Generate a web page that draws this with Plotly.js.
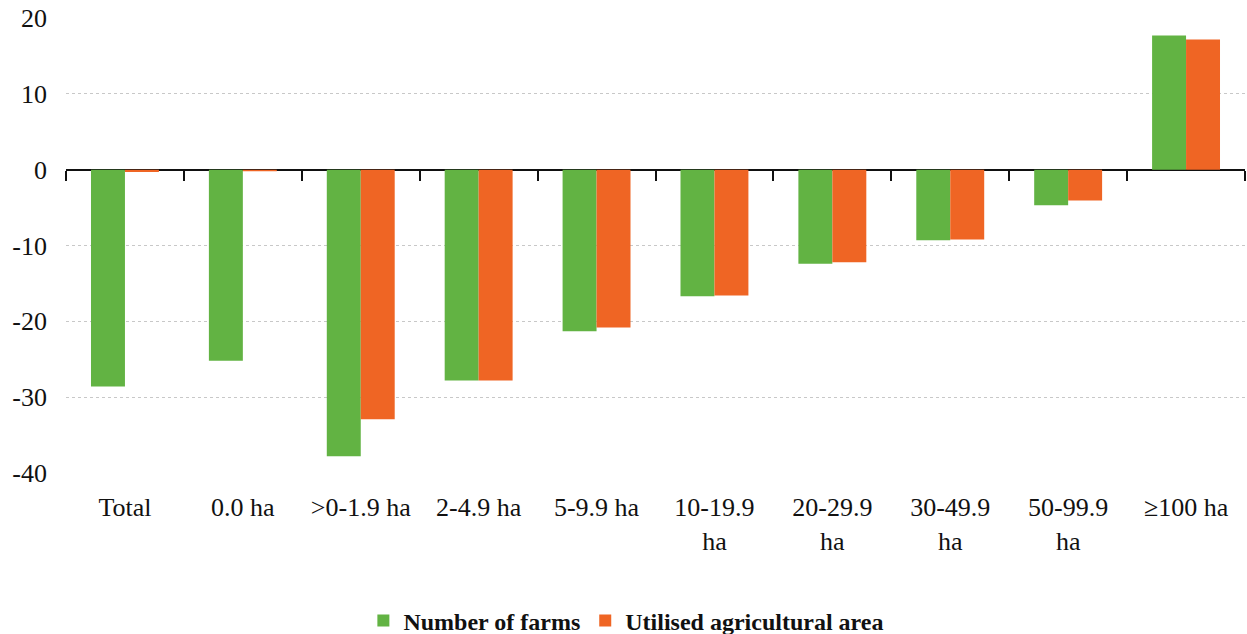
<!DOCTYPE html>
<html>
<head>
<meta charset="utf-8">
<script src="https://cdn.plot.ly/plotly-3.0.1.min.js"></script>
<style>html,body{margin:0;padding:0;background:#fff;}#chart{width:1247px;height:634px;}</style>
</head>
<body>
<div id="chart"></div>
<script>
const categories = ["Total", "0.0 ha", ">0-1.9 ha", "2-4.9 ha", "5-9.9 ha", "10-19.9<br>ha", "20-29.9<br>ha", "30-49.9<br>ha", "50-99.9<br>ha", "≥100 ha"];
const numberOfFarms = [-28.6, -25.2, -37.8, -27.8, -21.3, -16.7, -12.4, -9.3, -4.7, 17.7];
const utilisedArea = [-0.3, -0.2, -32.9, -27.8, -20.8, -16.6, -12.2, -9.2, -4.05, 17.15];
const yTicks = [-40, -30, -20, -10, 0, 10, 20];
const seriesNames = ["Number of farms", "Utilised agricultural area"];

const font = "'Liberation Serif', 'Times New Roman', serif";

const traces = [
  {type: "bar", name: seriesNames[0], x: categories, y: numberOfFarms, marker: {color: "#62B343"}, hoverinfo: "x+y"},
  {type: "bar", name: seriesNames[1], x: categories, y: utilisedArea, marker: {color: "#EF6524"}, hoverinfo: "x+y"},
  {type: "scatter", mode: "none", x: categories, y: categories.map(() => null), xaxis: "x2", showlegend: false, hoverinfo: "skip"}
];

const layout = {
  width: 1247, height: 634,
  margin: {l: 66, r: 2, t: 18, b: 161, pad: 0, autoexpand: false},
  paper_bgcolor: "#fff", plot_bgcolor: "#fff",
  font: {family: font, size: 26, color: "#111"},
  barmode: "group", bargap: 0.424, bargroupgap: 0,
  showlegend: true,
  legend: {
    orientation: "h", xref: "paper", yref: "paper",
    x: 0.4753, xanchor: "center", y: -0.325, yanchor: "middle",
    font: {family: font, size: 24, color: "#111", weight: "bold"},
    itemwidth: 30, tracegroupgap: 0
  },
  xaxis: {
    type: "category", categoryorder: "array", categoryarray: categories,
    range: [-0.5, 9.5], showline: false, showgrid: false, zeroline: false,
    ticks: "", ticklabelstandoff: 16, tickfont: {family: font, size: 26, color: "#111"},
    automargin: false
  },
  xaxis2: {
    type: "category", categoryorder: "array", categoryarray: categories,
    range: [-0.5, 9.5], overlaying: "x", anchor: "free", position: 40/60, side: "bottom",
    showline: true, linecolor: "#111", linewidth: 2, layer: "below traces",
    ticks: "outside", tickson: "boundaries", ticklen: 10, tickwidth: 2, tickcolor: "#111",
    showticklabels: false, showgrid: false, zeroline: false, automargin: false
  },
  yaxis: {
    range: [-40, 20], tickvals: yTicks, ticktext: yTicks.map(String),
    showline: false, zeroline: false, showgrid: true,
    gridcolor: "#c8c8c8", gridwidth: 1, griddash: "dot", automargin: false,
    ticks: "", ticklabelstandoff: 18, tickfont: {family: font, size: 26, color: "#111"}
  }
};

Plotly.newPlot("chart", traces, layout, {displayModeBar: false, staticPlot: true});
</script>
</body>
</html>
